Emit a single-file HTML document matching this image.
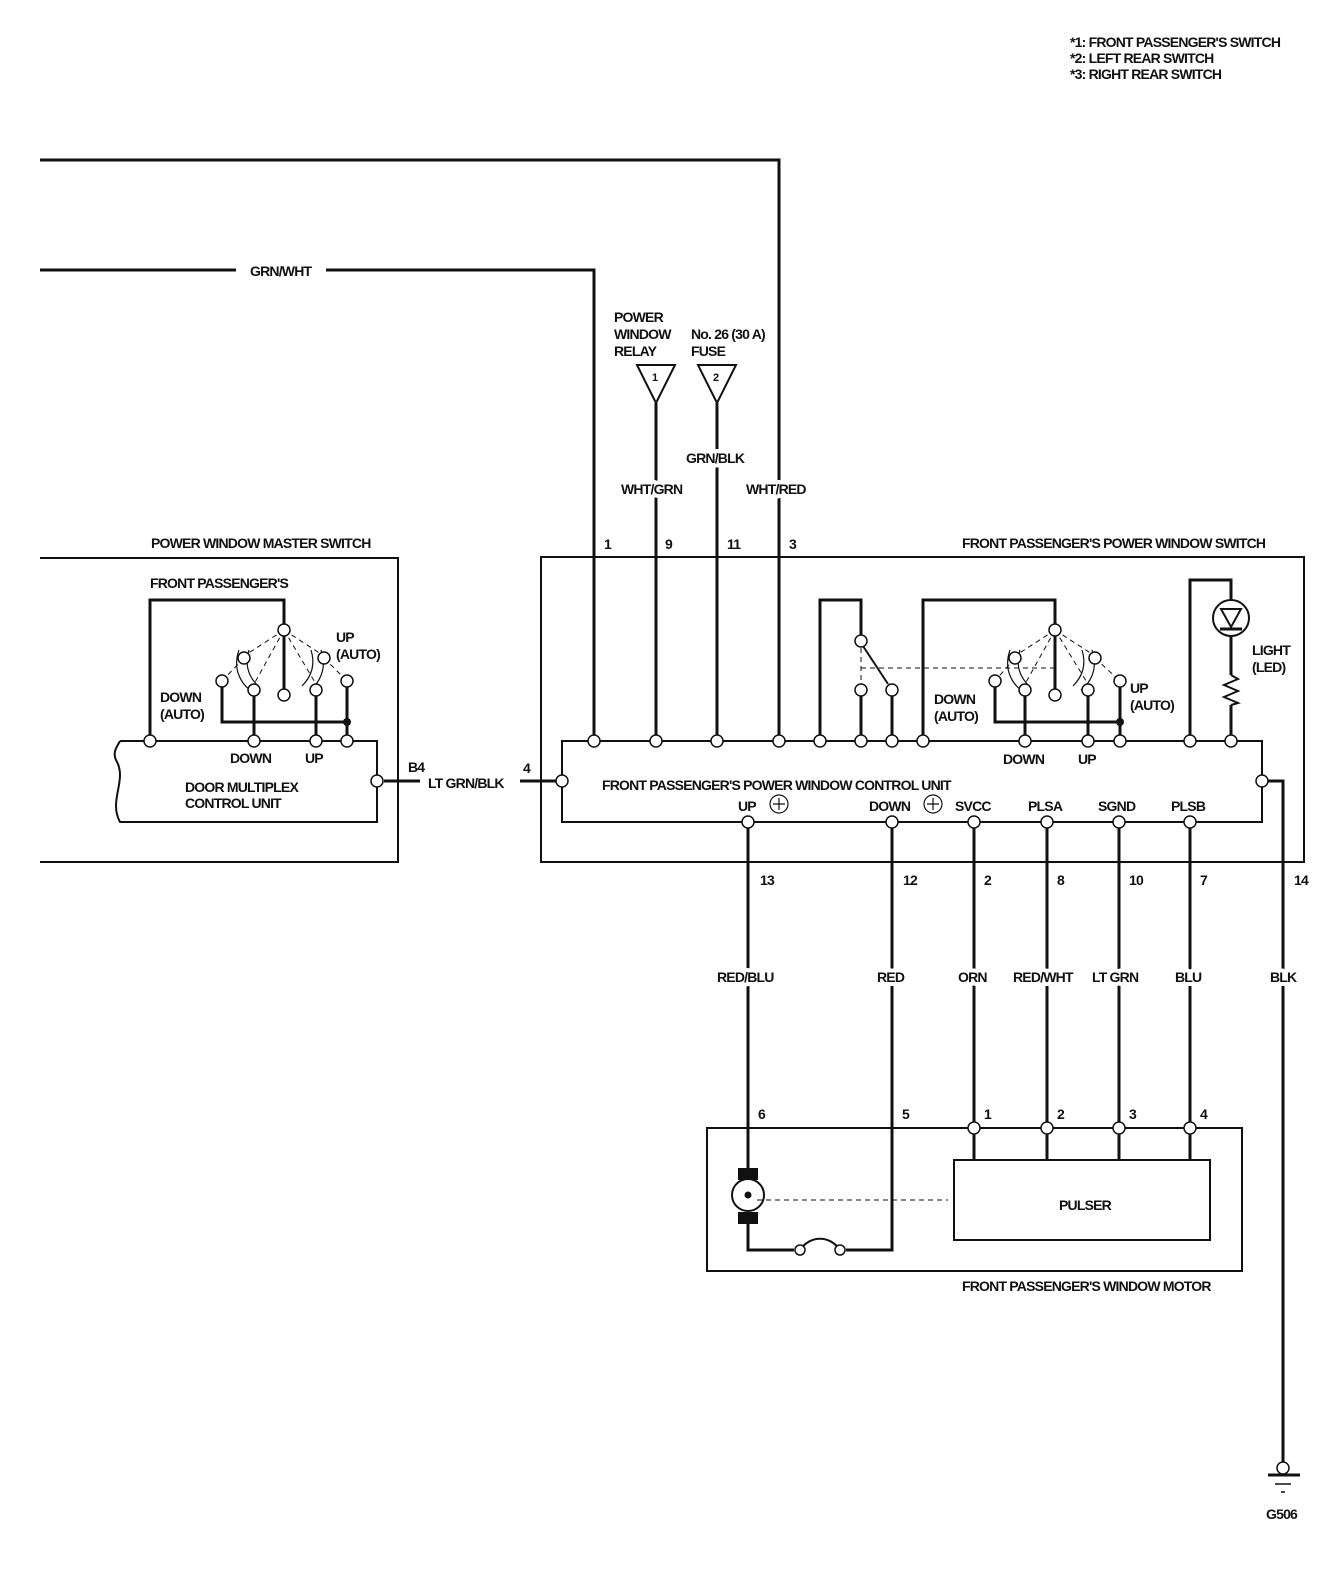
<!DOCTYPE html>
<html><head><meta charset="utf-8"><style>
html,body{margin:0;padding:0;background:#fff;}
svg{display:block}
text{font-family:"Liberation Sans",sans-serif;font-weight:bold;font-size:14px;fill:#111;letter-spacing:-0.8px}
text.l{stroke:#fff;stroke-width:8px;paint-order:stroke;stroke-linejoin:round}
</style></head><body>
<svg width="1336" height="1572" viewBox="0 0 1336 1572" xmlns="http://www.w3.org/2000/svg">
<g fill="none" stroke="#111" stroke-width="3">
<polyline points="40,160 779,160 779,742"/>
<polyline points="40,270 236,270"/>
<polyline points="326,270 594,270 594,742"/>
<line x1="656" y1="403" x2="656" y2="742"/>
<line x1="717" y1="403" x2="717" y2="742"/>
<g stroke-width="2">
<polyline points="40,558 398,558 398,862 40,862"/>
<path d="M120,741 L377,741 L377,822 L120,822 C108,800 128,780 116,760 C112,752 118,745 120,741"/>
<rect x="541" y="557" width="763" height="305"/>
<rect x="562" y="741" width="700" height="81"/>
<rect x="707" y="1128" width="535" height="143"/>
<rect x="954" y="1160" width="256" height="80"/>
</g>
<polyline points="150,741 150,600 284,600 284,630"/>
<line x1="284" y1="630" x2="284" y2="695"/>
<polyline points="222,681 222,722 347,722 347,741"/>
<line x1="347" y1="681" x2="347" y2="722"/>
<line x1="254" y1="690" x2="254" y2="741"/>
<line x1="316" y1="690" x2="316" y2="741"/>
<line x1="384" y1="781" x2="420" y2="781"/>
<line x1="520" y1="781" x2="556" y2="781"/>
<polyline points="820,741 820,600 861,600 861,638"/>
<line x1="861" y1="690" x2="861" y2="741"/>
<line x1="892" y1="690" x2="892" y2="741"/>
<polyline points="923,741 923,600 1055,600 1055,630"/>
<line x1="1055" y1="630" x2="1055" y2="695"/>
<polyline points="995,681 995,722 1120,722 1120,741"/>
<line x1="1120" y1="681" x2="1120" y2="722"/>
<line x1="1025" y1="690" x2="1025" y2="741"/>
<line x1="1088" y1="690" x2="1088" y2="741"/>
<polyline points="1190,741 1190,580 1231,580 1231,600"/>
<line x1="1231" y1="636" x2="1231" y2="675"/>
<line x1="1231" y1="705" x2="1231" y2="741"/>
<polyline points="1268,781 1283,781 1283,1470"/>
<line x1="748" y1="822" x2="748" y2="1170"/>
<polyline points="892,822 892,1250 846,1250"/>
<polyline points="748,1220 748,1250 794,1250"/>
<line x1="974" y1="822" x2="974" y2="1160"/>
<line x1="1047" y1="822" x2="1047" y2="1160"/>
<line x1="1119" y1="822" x2="1119" y2="1160"/>
<line x1="1190" y1="822" x2="1190" y2="1160"/>
<line x1="1268" y1="1475" x2="1300" y2="1475"/>
</g>
<g fill="none" stroke="#111" stroke-width="2">
<line x1="861" y1="643" x2="888" y2="684"/>
<path d="M800,1250 C810,1235 830,1235 840,1250"/>
<line x1="1275" y1="1484" x2="1291" y2="1484" stroke-width="1.5"/>
<line x1="1281" y1="1492" x2="1285" y2="1492" stroke-width="1.5"/>
<path d="M637,365 L675,365 L656,403 Z"/>
<path d="M698,365 L736,365 L717,403 Z"/>
<circle cx="1231" cy="618" r="18"/>
<path d="M1221,609 L1241,609 L1231,627 Z"/>
<line x1="1220" y1="629" x2="1242" y2="629" stroke-width="3"/>
<polyline points="1231,675 1238,679 1224,685 1238,691 1224,697 1238,703 1231,705"/>
<circle cx="748" cy="1195" r="16"/>
</g>
<rect x="738" y="1168" width="20" height="12" fill="#111"/>
<rect x="738" y="1212" width="20" height="12" fill="#111"/>
<circle cx="748" cy="1195" r="3.5" fill="#111"/>
<g fill="none" stroke="#111" stroke-width="1" stroke-dasharray="5,4">
<line x1="757" y1="1200" x2="948" y2="1200"/>
<line x1="861" y1="668" x2="1055" y2="668"/>
<line x1="861" y1="648" x2="861" y2="685"/>
<path d="M284,630 L244,656 M284,630 L254,684 M284,630 L324,656 M284,630 L316,684 M244,658 L222,681 M324,658 L347,681"/>
<path d="M1055,630 L1015,656 M1055,630 L1025,684 M1055,630 L1095,656 M1055,630 L1088,684 M1015,658 L995,681 M1095,658 L1120,681"/>
</g>
<g fill="none" stroke="#111" stroke-width="1.2">
<path d="M239,650 C232,670 242,684 250,690"/><path d="M249,650 C244,666 250,678 258,686"/>
<path d="M321,650 C328,670 318,684 310,690"/><path d="M311,650 C316,666 310,678 302,686"/>
<path d="M1010,650 C1003,670 1013,684 1021,690"/><path d="M1020,650 C1015,666 1021,678 1029,686"/>
<path d="M1092,650 C1099,670 1089,684 1081,690"/><path d="M1082,650 C1087,666 1081,678 1073,686"/>
<circle cx="779" cy="804" r="9"/><path d="M773,804 h12 M779,798 v12"/>
<circle cx="933" cy="804" r="9"/><path d="M927,804 h12 M933,798 v12"/>
</g>
<circle cx="347" cy="722" r="4" fill="#111"/>
<circle cx="1120" cy="722" r="4" fill="#111"/>
<g fill="#fff" stroke="#111" stroke-width="1.5">
<circle cx="284" cy="630" r="6"/><circle cx="244" cy="658" r="6"/><circle cx="324" cy="658" r="6"/>
<circle cx="222" cy="681" r="6"/><circle cx="254" cy="690" r="6"/><circle cx="284" cy="695" r="6"/><circle cx="316" cy="690" r="6"/><circle cx="347" cy="681" r="6"/>
<circle cx="150" cy="741" r="6"/><circle cx="254" cy="741" r="6"/><circle cx="316" cy="741" r="6"/><circle cx="347" cy="741" r="6"/><circle cx="377" cy="781" r="6"/>
<circle cx="562" cy="781" r="6"/>
<circle cx="594" cy="741" r="6"/><circle cx="656" cy="741" r="6"/><circle cx="717" cy="741" r="6"/><circle cx="779" cy="741" r="6"/><circle cx="820" cy="741" r="6"/><circle cx="861" cy="741" r="6"/><circle cx="892" cy="741" r="6"/><circle cx="923" cy="741" r="6"/><circle cx="1025" cy="741" r="6"/><circle cx="1088" cy="741" r="6"/><circle cx="1120" cy="741" r="6"/><circle cx="1190" cy="741" r="6"/><circle cx="1231" cy="741" r="6"/>
<circle cx="861" cy="641" r="6"/><circle cx="861" cy="690" r="6"/><circle cx="892" cy="690" r="6"/>
<circle cx="1055" cy="630" r="6"/><circle cx="1015" cy="658" r="6"/><circle cx="1095" cy="658" r="6"/>
<circle cx="995" cy="681" r="6"/><circle cx="1025" cy="690" r="6"/><circle cx="1055" cy="695" r="6"/><circle cx="1088" cy="690" r="6"/><circle cx="1120" cy="681" r="6"/>
<circle cx="1262" cy="781" r="6"/>
<circle cx="748" cy="822" r="6"/><circle cx="892" cy="822" r="6"/><circle cx="974" cy="822" r="6"/><circle cx="1047" cy="822" r="6"/><circle cx="1119" cy="822" r="6"/><circle cx="1190" cy="822" r="6"/>
<circle cx="974" cy="1128" r="6"/><circle cx="1047" cy="1128" r="6"/><circle cx="1119" cy="1128" r="6"/><circle cx="1190" cy="1128" r="6"/>
<circle cx="800" cy="1250" r="5"/><circle cx="840" cy="1250" r="5"/>
<circle cx="1283" cy="1468" r="6"/>
</g>
<text x="1070" y="47">*1: FRONT PASSENGER'S SWITCH</text>
<text x="1070" y="63">*2: LEFT REAR SWITCH</text>
<text x="1070" y="79">*3: RIGHT REAR SWITCH</text>
<text x="250" y="276">GRN/WHT</text>
<text x="614" y="322">POWER</text><text x="614" y="339">WINDOW</text><text x="614" y="356">RELAY</text>
<text x="691" y="339">No. 26 (30 A)</text><text x="691" y="356">FUSE</text>
<text x="652" y="381" style="font-size:11px">1</text><text x="713" y="381" style="font-size:11px">2</text>
<text class="l" x="686" y="463">GRN/BLK</text>
<text class="l" x="621" y="494">WHT/GRN</text>
<text class="l" x="746" y="494">WHT/RED</text>
<text x="151" y="548">POWER WINDOW MASTER SWITCH</text>
<text x="604" y="549">1</text><text x="665" y="549">9</text><text x="727" y="549">11</text><text x="789" y="549">3</text>
<text x="962" y="548">FRONT PASSENGER'S POWER WINDOW SWITCH</text>
<text x="150" y="588">FRONT PASSENGER'S</text>
<text x="336" y="642">UP</text><text x="336" y="659">(AUTO)</text>
<text x="160" y="702">DOWN</text><text x="160" y="719">(AUTO)</text>
<text x="230" y="763">DOWN</text><text x="305" y="763">UP</text>
<text x="185" y="792">DOOR MULTIPLEX</text><text x="185" y="808">CONTROL UNIT</text>
<text x="408" y="772">B4</text><text x="428" y="788">LT GRN/BLK</text>
<text x="523" y="773">4</text>
<text x="1252" y="655">LIGHT</text><text x="1252" y="672">(LED)</text>
<text x="934" y="704">DOWN</text><text x="934" y="721">(AUTO)</text>
<text x="1130" y="693">UP</text><text x="1130" y="710">(AUTO)</text>
<text x="1003" y="764">DOWN</text><text x="1078" y="764">UP</text>
<text x="602" y="790">FRONT PASSENGER'S POWER WINDOW CONTROL UNIT</text>
<text x="738" y="811">UP</text><text x="869" y="811">DOWN</text><text x="955" y="811">SVCC</text>
<text x="1028" y="811">PLSA</text><text x="1098" y="811">SGND</text><text x="1171" y="811">PLSB</text>
<text x="760" y="885">13</text><text x="903" y="885">12</text><text x="984" y="885">2</text><text x="1057" y="885">8</text><text x="1129" y="885">10</text><text x="1200" y="885">7</text><text x="1294" y="885">14</text>
<text class="l" x="717" y="982">RED/BLU</text><text class="l" x="877" y="982">RED</text><text class="l" x="958" y="982">ORN</text>
<text class="l" x="1013" y="982">RED/WHT</text><text class="l" x="1092" y="982">LT GRN</text><text class="l" x="1175" y="982">BLU</text><text class="l" x="1270" y="982">BLK</text>
<text x="758" y="1119">6</text><text x="902" y="1119">5</text><text x="984" y="1119">1</text><text x="1057" y="1119">2</text><text x="1129" y="1119">3</text><text x="1200" y="1119">4</text>
<text x="1059" y="1210">PULSER</text>
<text x="962" y="1291">FRONT PASSENGER'S WINDOW MOTOR</text>
<text x="1266" y="1519">G506</text>
</svg>
</body></html>
